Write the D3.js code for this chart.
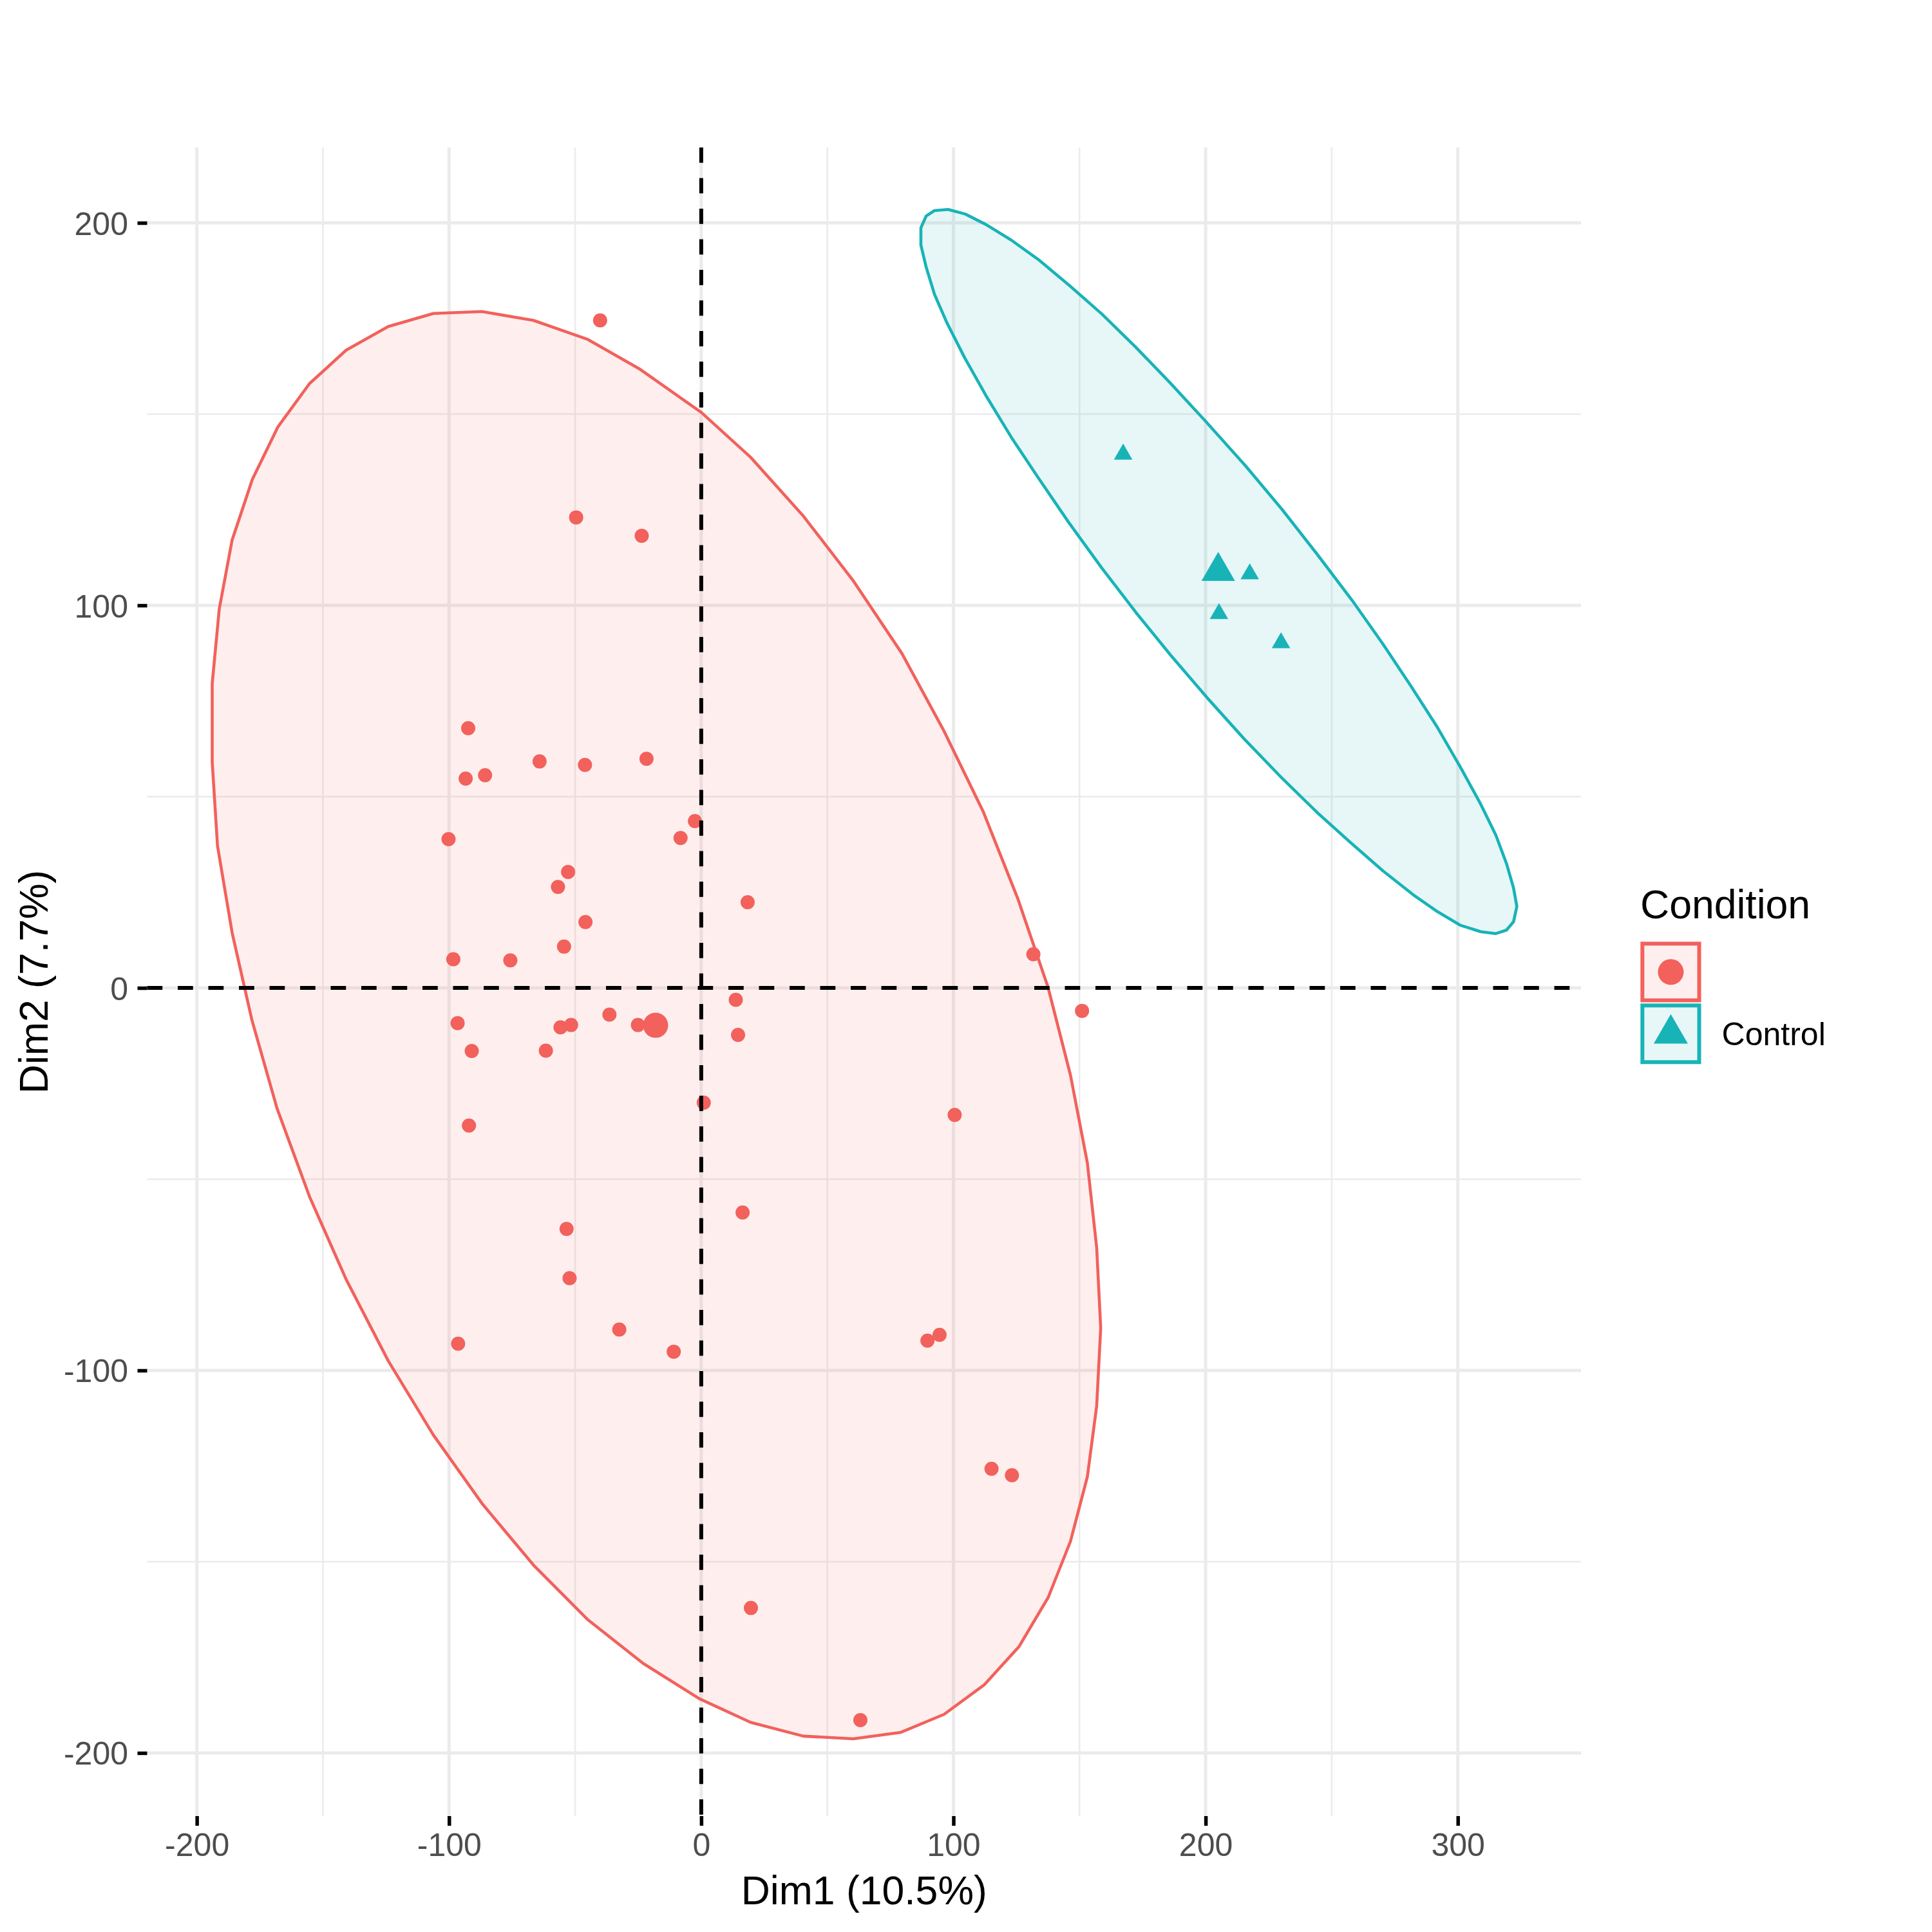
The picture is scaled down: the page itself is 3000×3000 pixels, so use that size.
<!DOCTYPE html>
<html><head><meta charset="utf-8">
<script src="https://cdn.jsdelivr.net/npm/d3@7"></script>
<style>
html,body{margin:0;padding:0;background:#fff;}
svg{display:block;font-family:"Liberation Sans",Arial,Helvetica,sans-serif;}
</style>
</head><body>
<svg id="chart" width="3000" height="3000"></svg>
<script>
// ---------------- data ----------------
const groups = ["", "Control"];
const groupColors = ["#F2615C", "#18B3B7"];
const legendTitle = "Condition";
const xTitle = "Dim1 (10.5%)";
const yTitle = "Dim2 (7.7%)";
const xDomain = [-219.7, 348.85];
const yDomain = [-216.5, 219.7];
const xTicks = [-200, -100, 0, 100, 200, 300];
const yTicks = [-200, -100, 0, 100, 200];
const xMinorTicks = [-150, -50, 50, 150, 250];
const yMinorTicks = [-150, -50, 50, 150];

const group1X = [-40.1, -49.6, -23.6, -92.4, -93.4, -85.7, -64.1, -46.1, -21.7, -100.2,
  -2.5, -8.2, -52.8, -56.8, 18.4, -45.9, -54.4, -98.3, -75.7, 131.7,
  13.7, 151.0, -96.6, -55.8, -51.6, -36.4, -25.1, 14.6, -91.0, -61.6,
  1.0, -92.1, 100.5, 16.4, -53.4, -52.2, -32.5, -96.4, -10.9, 89.7,
  94.5, 115.1, 123.2, 19.7, 63.1];
const group1Y = [174.5, 123.0, 118.2, 67.9, 54.7, 55.6, 59.2, 58.3, 59.9, 38.9,
  43.6, 39.2, 30.3, 26.4, 22.4, 17.2, 10.8, 7.5, 7.2, 8.8,
  -3.1, -6.0, -9.2, -10.3, -9.7, -7.0, -9.7, -12.3, -16.5, -16.4,
  -30.0, -36.0, -33.2, -58.7, -63.0, -75.9, -89.3, -93.0, -95.1, -92.2,
  -90.7, -125.7, -127.4, -162.1, -191.4];

const controlX = [167.3, 217.5, 205.3, 229.9];
const controlY = [139.5, 108.2, 97.8, 90.2];

const ellipseGroup1 = [
  [-86.9,176.8],[-66.5,174.5],[-44.9,169.5],[-24.2,161.7],[0.1,150.4],[19.6,138.7],[40.3,123.5],
  [60.1,106.6],[79.6,87.4],[96.3,67.1],[111.8,46.1],[125.6,23.2],[137.5,0.2],[146.4,-22.8],
  [153.1,-45.7],[156.8,-67.9],[158.4,-88.9],[156.8,-109.3],[153.1,-127.8],[146.4,-144.7],
  [137.6,-159.3],[126.0,-172.2],[112.2,-182.2],[96.3,-189.9],[79.2,-194.6],[60.3,-196.3],
  [40.5,-195.6],[19.6,-192.0],[-0.8,-185.8],[-23.0,-176.6],[-44.9,-165.2],[-66.5,-150.9],
  [-86.9,-134.8],[-106.2,-116.9],[-124.1,-97.5],[-140.8,-76.2],[-155.3,-54.6],[-168.2,-31.5],
  [-178.2,-8.3],[-186.0,14.4],[-191.8,37.1],[-193.9,59.0],[-193.9,79.6],[-191.1,99.1],
  [-186.0,117.1],[-178.0,132.9],[-167.9,146.6],[-155.3,158.0],[-140.8,166.7],[-124.1,172.9],
  [-106.2,176.3]];

const ellipseControl = [
  [92.5,203.2],[97.9,203.5],[104.7,202.3],[112.8,199.6],[122.9,195.5],[133.7,190.4],[146.2,183.5],
  [158.8,176.2],[172.3,167.5],[185.6,158.4],[199.9,148.2],[215.8,136.5],[230.4,125.0],[244.3,113.3],
  [258.1,101.3],[270.3,89.9],[281.4,78.9],[292.0,68.0],[301.3,57.4],[309.1,48.0],[315.1,39.9],
  [319.3,32.5],[322.1,26.1],[323.4,21.3],[322.1,17.3],[319.3,15.1],[315.1,14.2],[309.1,14.7],
  [300.9,16.4],[292.0,19.9],[282.2,24.4],[270.3,30.6],[257.3,38.1],[244.3,45.8],[229.6,55.3],
  [215.4,65.0],[200.8,75.7],[186.1,87.0],[172.3,98.2],[158.8,109.8],[145.7,121.7],[133.7,133.3],
  [122.9,144.0],[113.2,154.5],[104.4,164.8],[97.4,173.9],[92.5,181.3],[89.2,188.4],[87.1,194.2],
  [87.1,198.7],[89.2,201.8]];

// ---------------- drawing ----------------
const svg = d3.select("#chart");
const panel = {left: 228.5, right: 2455, top: 229, bottom: 2820};
const x = d3.scaleLinear().domain(xDomain).range([panel.left, panel.right]);
const y = d3.scaleLinear().domain(yDomain).range([panel.bottom, panel.top]);

svg.append("rect").attr("width", 3000).attr("height", 3000).attr("fill", "#fff");

const gridColor = "#EBEBEB";
const grid = svg.append("g");
grid.selectAll(".xminor").data(xMinorTicks).join("line")
  .attr("x1", d => x(d)).attr("x2", d => x(d)).attr("y1", panel.top).attr("y2", panel.bottom)
  .attr("stroke", gridColor).attr("stroke-width", 2.5);
grid.selectAll(".yminor").data(yMinorTicks).join("line")
  .attr("y1", d => y(d)).attr("y2", d => y(d)).attr("x1", panel.left).attr("x2", panel.right)
  .attr("stroke", gridColor).attr("stroke-width", 2.5);
grid.selectAll(".xmajor").data(xTicks).join("line")
  .attr("x1", d => x(d)).attr("x2", d => x(d)).attr("y1", panel.top).attr("y2", panel.bottom)
  .attr("stroke", gridColor).attr("stroke-width", 5);
grid.selectAll(".ymajor").data(yTicks).join("line")
  .attr("y1", d => y(d)).attr("y2", d => y(d)).attr("x1", panel.left).attr("x2", panel.right)
  .attr("stroke", gridColor).attr("stroke-width", 5);

// ellipses
const line = d3.line().x(d => x(d[0])).y(d => y(d[1])).curve(d3.curveLinearClosed);
[ellipseGroup1, ellipseControl].forEach((pts, i) => {
  svg.append("path").attr("d", line(pts))
    .attr("fill", groupColors[i]).attr("fill-opacity", 0.1)
    .attr("stroke", groupColors[i]).attr("stroke-width", 4.6).attr("stroke-linejoin", "round");
});

// points group 1 (circles)
const g1 = group1X.map((v, i) => [v, group1Y[i]]);
svg.append("g").selectAll("circle").data(g1).join("circle")
  .attr("cx", d => x(d[0])).attr("cy", d => y(d[1])).attr("r", 11)
  .attr("fill", groupColors[0]);
// group mean
svg.append("circle").attr("cx", x(d3.mean(group1X))).attr("cy", y(d3.mean(group1Y)))
  .attr("r", 19.5).attr("fill", groupColors[0]);

// control points (triangles)
const triSize = side => { const yy = side / (2 * Math.sqrt(3)); return yy * yy * 3 * Math.sqrt(3); };
const ctrl = controlX.map((v, i) => [v, controlY[i]]);
svg.append("g").selectAll("path").data(ctrl).join("path")
  .attr("d", d3.symbol(d3.symbolTriangle, triSize(28.7)))
  .attr("transform", d => `translate(${x(d[0])},${y(d[1])})`)
  .attr("fill", groupColors[1]);
svg.append("path").attr("d", d3.symbol(d3.symbolTriangle, triSize(52)))
  .attr("transform", `translate(${x(d3.mean(controlX))},${y(d3.mean(controlY))})`)
  .attr("fill", groupColors[1]);

// dashed reference lines
svg.append("line").attr("x1", panel.left).attr("x2", panel.right).attr("y1", y(0)).attr("y2", y(0))
  .attr("stroke", "#000").attr("stroke-width", 6).attr("stroke-dasharray", "23.75,23.75");
svg.append("line").attr("x1", x(0)).attr("x2", x(0)).attr("y1", panel.top).attr("y2", panel.bottom)
  .attr("stroke", "#000").attr("stroke-width", 6).attr("stroke-dasharray", "23.75,23.75");

// axes
const xAxis = d3.axisBottom(x).tickValues(xTicks).tickSize(15).tickPadding(11).tickFormat(d => String(d));
const gx = svg.append("g").attr("transform", `translate(0,${panel.bottom})`).call(xAxis);
const yAxis = d3.axisLeft(y).tickValues(yTicks).tickSize(15).tickPadding(14.5).tickFormat(d => String(d));
const gy = svg.append("g").attr("transform", `translate(${panel.left},0)`).call(yAxis);
[gx, gy].forEach(g => {
  g.select(".domain").remove();
  g.selectAll(".tick line").attr("stroke", "#000").attr("stroke-width", 5.5);
  g.selectAll(".tick text").attr("fill", "#4D4D4D").attr("font-size", 50)
    .attr("font-family", "'Liberation Sans',Arial,Helvetica,sans-serif");
});
gy.selectAll(".tick text").attr("dy", "0.36em");

// axis titles
svg.append("text").attr("x", (panel.left + panel.right) / 2).attr("y", 2956.7)
  .attr("text-anchor", "middle").attr("font-size", 62.5).attr("fill", "#000").text(xTitle);
svg.append("text").attr("transform", `translate(74,${(panel.top + panel.bottom) / 2}) rotate(-90)`)
  .attr("text-anchor", "middle").attr("font-size", 62.5).attr("fill", "#000").text(yTitle);

// legend
const lg = svg.append("g");
lg.append("text").attr("x", 2547).attr("y", 1425.7).attr("font-size", 62.5).attr("fill", "#000").text(legendTitle);
const keyTop = [1465.3, 1561.3];
groups.forEach((gname, i) => {
  lg.append("rect").attr("x", 2550.3).attr("y", keyTop[i]).attr("width", 88.2).attr("height", 88)
    .attr("fill", groupColors[i]).attr("fill-opacity", 0.1)
    .attr("stroke", groupColors[i]).attr("stroke-width", 6);
  const cx = 2594.4, cy = keyTop[i] + 44;
  if (i === 0) {
    lg.append("circle").attr("cx", cx).attr("cy", cy).attr("r", 20).attr("fill", groupColors[i]);
  } else {
    lg.append("path").attr("d", d3.symbol(d3.symbolTriangle, triSize(53)))
      .attr("transform", `translate(${cx},${cy})`).attr("fill", groupColors[i]);
  }
  lg.append("text").attr("x", 2673.6).attr("y", cy + 17.5).attr("font-size", 50).attr("fill", "#000").text(gname);
});
</script>
</body></html>
